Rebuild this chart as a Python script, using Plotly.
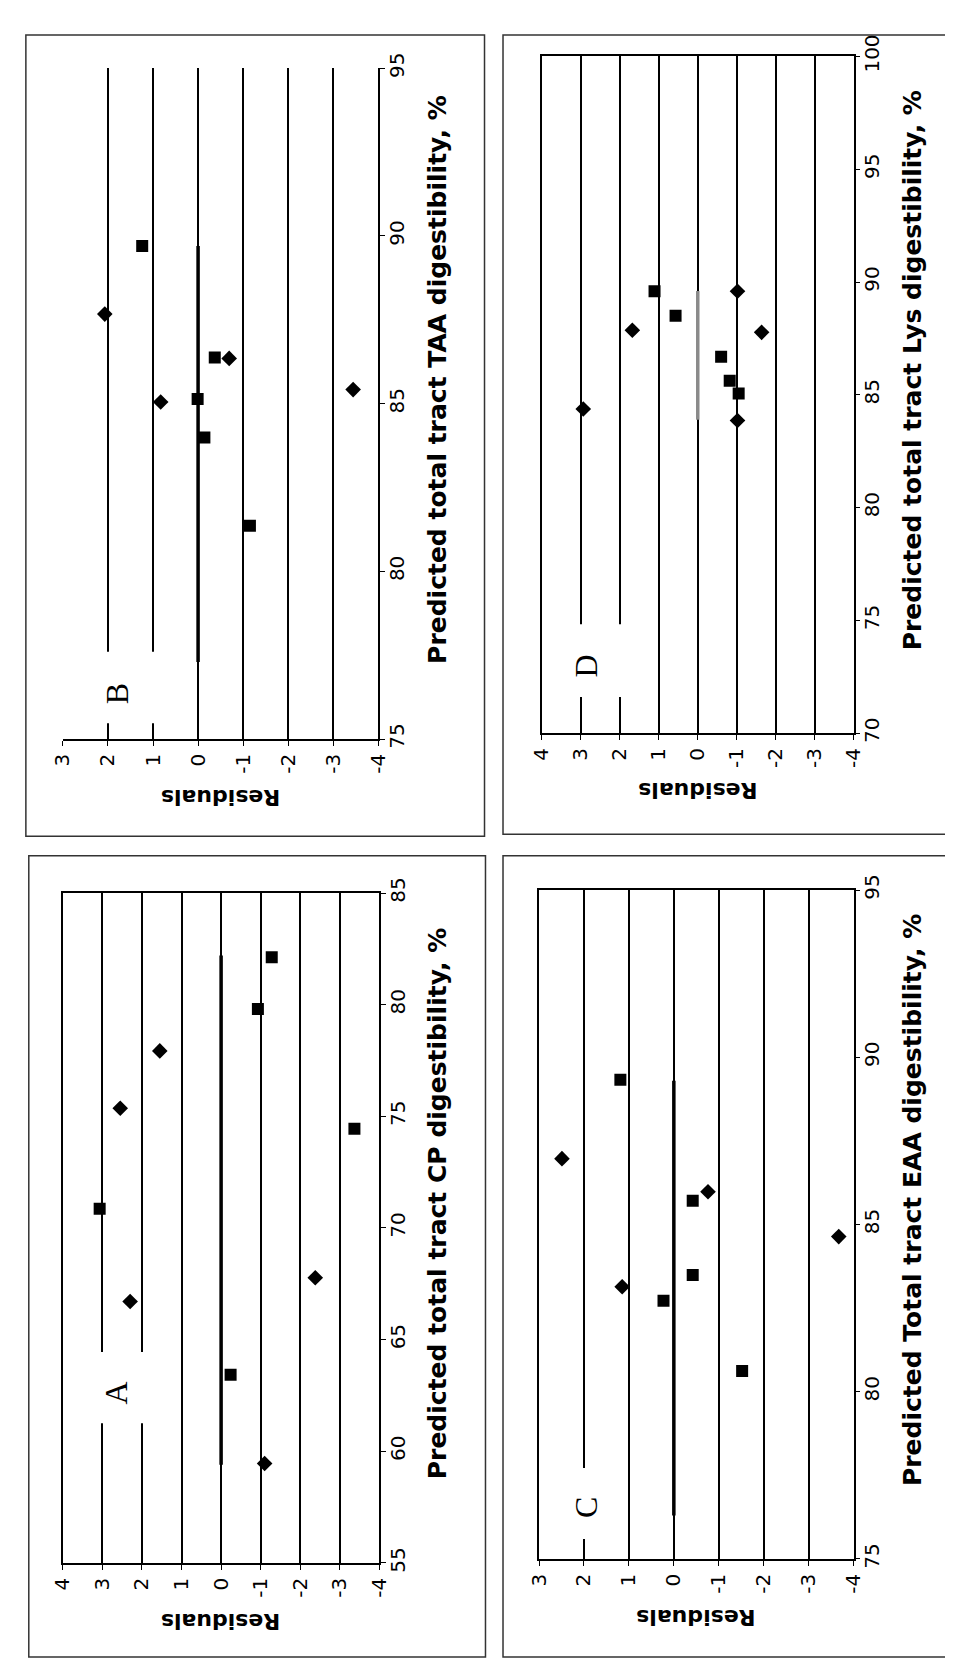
import plotly.graph_objects as go

W, H = 953, 1662

# ---------------- data (residual, predicted) ----------------
A_sq_pred = [70.86, 63.43, 79.81, 82.12, 74.44]
A_sq_res = [3.07, -0.24, -0.93, -1.28, -3.37]
A_di_pred = [66.71, 75.36, 77.93, 59.45, 67.77]
A_di_res = [2.30, 2.55, 1.55, -1.10, -2.38]
A_zero_pred = [59.4, 82.2]

B_sq_pred = [89.70, 86.38, 85.14, 83.99, 81.36]
B_sq_res = [1.24, -0.37, 0.01, -0.14, -1.15]
B_di_pred = [87.67, 86.35, 85.05, 85.42]
B_di_res = [2.07, -0.69, 0.83, -3.44]
B_zero_pred = [77.3, 89.7]

C_sq_pred = [89.33, 85.71, 83.49, 82.72, 80.62]
C_sq_res = [1.19, -0.42, -0.42, 0.23, -1.52]
C_di_pred = [86.97, 85.98, 83.14, 84.64]
C_di_res = [2.49, -0.76, 1.15, -3.67]
C_zero_pred = [76.3, 89.3]

D_sq_pred = [89.59, 88.51, 86.69, 85.63, 85.06]
D_sq_res = [1.11, 0.57, -0.60, -0.82, -1.05]
D_di_pred = [84.37, 87.86, 89.59, 87.77, 83.86]
D_di_res = [2.94, 1.68, -1.02, -1.64, -1.02]
D_zero_pred = [83.9, 89.6]

# residual tick values / labels (plain hyphen minus as in the original)
res_ticks_4 = [4, 3, 2, 1, 0, -1, -2, -3, -4]
res_ticks_3 = [3, 2, 1, 0, -1, -2, -3, -4]
res_labels_4 = ["4", "3", "2", "1", "0", "-1", "-2", "-3", "-4"]
res_labels_3 = ["3", "2", "1", "0", "-1", "-2", "-3", "-4"]

titles = {
    "A": "Predicted total tract CP digestibility, %",
    "B": "Predicted total tract TAA digestibility, %",
    "C": "Predicted Total tract EAA digestibility, %",
    "D": "Predicted total tract Lys digestibility, %",
}
res_title = "Residuals"

# ---------------- layout geometry (pixels) ----------------
panels = {
    "A": dict(i=1, x=(43, 368), y=(880, 1563), rr=[4, -4], pr=[55, 85], box=True,
              tv=res_ticks_4, tt=res_labels_4,
              outer=(8, 842, 477, 1659), zero_color="black",
              sq=(A_sq_res, A_sq_pred), di=(A_di_res, A_di_pred), zero=A_zero_pred,
              lab=dict(x=2.65, y=62.6, x0=3.6, x1=1.6, y0=61.25, y1=64.45)),
    "B": dict(i=2, x=(43, 367), y=(39, 723), rr=[3, -4], pr=[75, 95], box=False,
              tv=res_ticks_3, tt=res_labels_3,
              outer=(5, 5, 476, 822), zero_color="black",
              sq=(B_sq_res, B_sq_pred), di=(B_di_res, B_di_pred), zero=B_zero_pred,
              lab=dict(x=1.81, y=76.35, x0=2.7, x1=0.8, y0=75.47, y1=77.6)),
    "C": dict(i=3, x=(532, 855), y=(877, 1559), rr=[3, -4], pr=[75, 95], box=True,
              tv=res_ticks_3, tt=res_labels_3,
              outer=(495, 842, 950, 1659), zero_color="black",
              sq=(C_sq_res, C_sq_pred), di=(C_di_res, C_di_pred), zero=C_zero_pred,
              lab=dict(x=1.96, y=76.55, x0=2.78, x1=1.14, y0=75.6, y1=77.72)),
    "D": dict(i=4, x=(535, 855), y=(27, 717), rr=[4, -4], pr=[70, 100], box=True,
              tv=res_ticks_4, tt=res_labels_4,
              outer=(495, 5, 950, 820), zero_color="#8a8a8a",
              sq=(D_sq_res, D_sq_pred), di=(D_di_res, D_di_pred), zero=D_zero_pred,
              lab=dict(x=2.87, y=73.0, x0=3.85, x1=1.87, y0=71.6, y1=74.83)),
}

def fx(px):
    return px / W

def fy(py):
    return 1 - py / H

fig = go.Figure()
layout = dict(
    width=W, height=H, margin=dict(l=0, r=0, t=0, b=0),
    paper_bgcolor="white", plot_bgcolor="white", showlegend=False,
)
shapes = []
annotations = []

TICKFONT = dict(family="DejaVu Sans", size=20, color="black")
TITLEFONT = dict(family="DejaVu Sans", size=25, color="black", weight="bold")

for name, p in panels.items():
    i = p["i"]
    xa = "x" if i == 1 else f"x{i}"
    ya = "y" if i == 1 else f"y{i}"
    xkey = "xaxis" if i == 1 else f"xaxis{i}"
    ykey = "yaxis" if i == 1 else f"yaxis{i}"

    layout[xkey] = dict(
        domain=[fx(p["x"][0]), fx(p["x"][1])], range=p["rr"], anchor=ya,
        tickmode="array", tickvals=p["tv"], ticktext=p["tt"],
        showgrid=True, gridcolor="black", gridwidth=1.5,
        zeroline=False, showline=True, linecolor="black", linewidth=1.6,
        mirror=p["box"], ticks="outside", ticklen=5, tickcolor="black", tickwidth=1.3,
        tickangle=-90, tickfont=TICKFONT, side="bottom",
    )
    layout[ykey] = dict(
        domain=[fy(p["y"][1]), fy(p["y"][0])], range=p["pr"], anchor=xa,
        dtick=5, showgrid=False, zeroline=False, showline=True, linecolor="black",
        linewidth=1.6, mirror=p["box"], ticks="outside", ticklen=5, tickcolor="black",
        tickwidth=1.3, tickangle=-90, tickfont=TICKFONT, side="right",
        ticklabelstandoff=-5,
    )

    fig.add_trace(go.Scatter(x=[0, 0], y=p["zero"], mode="lines", xaxis=xa, yaxis=ya,
                             line=dict(color=p["zero_color"], width=3.5), hoverinfo="skip"))
    fig.add_trace(go.Scatter(x=p["sq"][0], y=p["sq"][1], mode="markers", xaxis=xa, yaxis=ya,
                             marker=dict(symbol="square", size=12, color="black")))
    fig.add_trace(go.Scatter(x=p["di"][0], y=p["di"][1], mode="markers", xaxis=xa, yaxis=ya,
                             marker=dict(symbol="diamond", size=12, color="black")))

    lab = p["lab"]
    shapes.append(dict(type="rect", xref=xa, yref=ya, x0=lab["x0"], x1=lab["x1"],
                       y0=lab["y0"], y1=lab["y1"], fillcolor="white",
                       line=dict(width=0), layer="above"))
    annotations.append(dict(text=name, xref=xa, yref=ya, x=lab["x"], y=lab["y"],
                            showarrow=False, textangle=-90,
                            font=dict(family="Liberation Serif", size=32, color="black")))

    cx = (p["x"][0] + p["x"][1]) / 2
    cy = (p["y"][0] + p["y"][1]) / 2 - 25
    annotations.append(dict(text=titles[name], xref="paper", yref="paper",
                            x=fx(p["x"][1] + 60), y=fy(cy), showarrow=False,
                            textangle=-90, xanchor="center", yanchor="middle",
                            font=TITLEFONT))
    annotations.append(dict(text=res_title, xref="paper", yref="paper",
                            x=fx(cx), y=fy(p["y"][1] + 59), showarrow=False,
                            textangle=180, xanchor="center", yanchor="middle",
                            font=dict(family="DejaVu Sans", size=22, color="black",
                                      weight="bold")))

    o = p["outer"]
    shapes.append(dict(type="rect", xref="paper", yref="paper",
                       x0=fx(o[0]), x1=fx(o[2]), y0=fy(o[3]), y1=fy(o[1]),
                       line=dict(color="#333333", width=1.5), fillcolor="rgba(0,0,0,0)",
                       layer="below"))

layout["shapes"] = shapes
layout["annotations"] = annotations
fig.update_layout(**layout)
fig.write_html("out.html")
